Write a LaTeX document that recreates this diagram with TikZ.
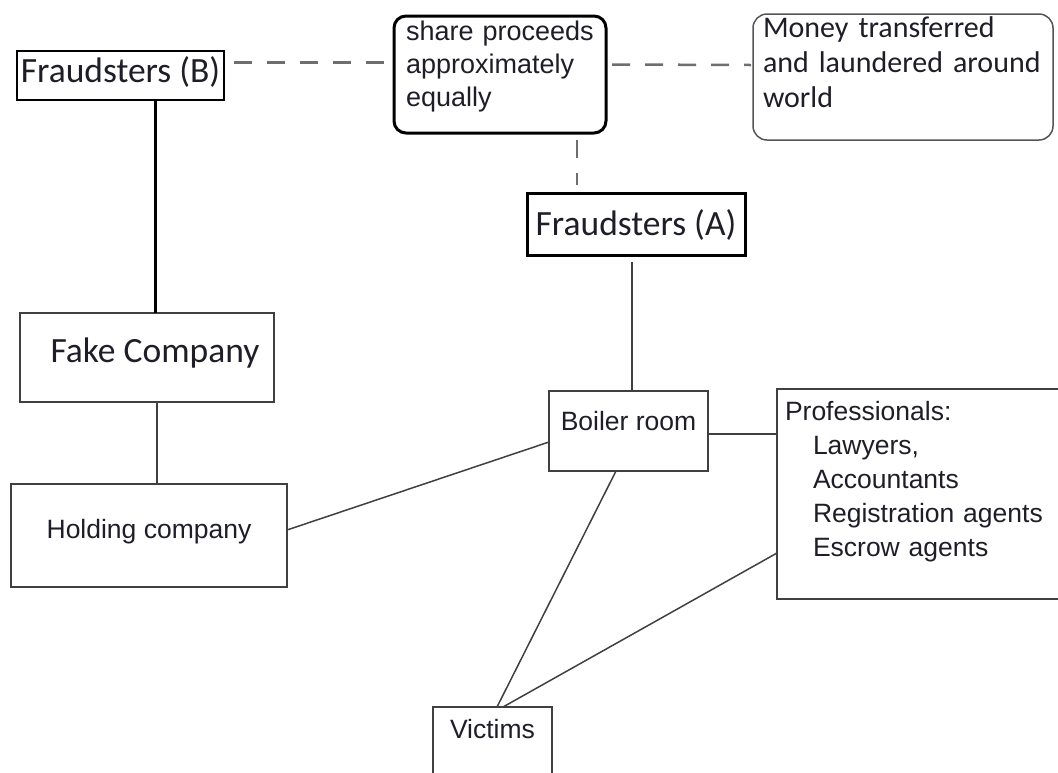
\documentclass[tikz,border=0pt]{standalone}
\usepackage{fontspec}
\setmainfont{Liberation Sans}
\newfontfamily\calfont{Carlito}
\usetikzlibrary{calc}
\definecolor{boxgray}{HTML}{404040}
\definecolor{dashgray}{HTML}{6E6E6E}
\definecolor{roundgray}{HTML}{555555}
\definecolor{inkdark}{HTML}{1E1E28}
\begin{document}
\begin{tikzpicture}[x=1pt, y=-1pt]
    \tikzset{
      box/.style={rectangle, draw=boxgray, line width=1.5pt, inner sep=0pt,
                  outer sep=0pt, anchor=north west, text=inkdark,
                  font=\fontsize{26.5}{34}\selectfont},
      heavybox/.style={box, draw=black, line width=3pt},
      calbox/.style={font=\calfont\fontsize{35.5}{38}\selectfont},
      link/.style={draw=boxgray, line width=1.5pt},
      dashlink/.style={draw=dashgray, line width=2.5pt,
                       dash pattern=on 18pt off 15pt}
    }
    \useasboundingbox (0,0) rectangle (1058,772);

    \node[box, draw=black, calbox, minimum width=207pt,
          text height=31pt, text depth=18pt] (fraudB) at (17,51)
      {Fraudsters (B)};
    \node[heavybox, rounded corners=12pt, inner xsep=12pt, text width=188pt,
          align=left, font=\fontsize{27}{33}\selectfont,
          text height=24pt, text depth=93pt] (share) at (394,16)
      {\mbox{share proceeds}\\\mbox{approximately}\\\mbox{equally}};
    \node[box, draw=roundgray, rounded corners=14pt, inner xsep=10pt,
          text width=280pt, align=left, font=\calfont\fontsize{30}{35}\selectfont,
          text height=23pt, text depth=103pt] (money) at (753,14)
      {Money transferred\\and laundered around\\world};
    \node[heavybox, calbox, minimum width=218pt,
          text height=42pt, text depth=20pt] (fraudA) at (527,193)
      {Fraudsters (A)};
    \node[box, calbox, minimum width=254pt,
          text height=49pt, text depth=40pt] (fake) at (20,313)
      {\hspace*{16pt}Fake Company};
    \node[box, minimum width=276pt,
          text height=54pt, text depth=49pt] (holding) at (11,484)
      {Holding company};
    \node[box, minimum width=159pt,
          text height=39pt, text depth=41pt] (boiler) at (549,391)
      {Boiler room};
    \node[box, inner xsep=8pt, text width=282pt, align=left,
          text height=31pt, text depth=179pt] (prof) at (777,389)
      {Professionals:\\\hspace*{28pt}Lawyers,\\\hspace*{28pt}Accountants\\
       \hspace*{28pt}Registration agents\\\hspace*{28pt}Escrow agents};
    \node[box, minimum width=119pt,
          text height=31pt, text depth=52pt] (victims) at (433,707)
      {Victims};

    % dashed links
    \draw[dashlink] ($(fraudB.east)+(10,-13)$) -- ($(share.west)+(-10,-12)$);
    \draw[dashlink] ($(share.east)+(6,-10)$) -- ($(money.west)+(-2,-12)$);
    \draw[dashlink] ($(share.south)+(77,7)$) -- ($(fraudA.north)+(-59,-8)$);

    % solid links
    \draw[link, draw=black, line width=3pt] ($(fraudB.south)+(34.5,0)$)
      -- ($(fraudB.south |- fake.north)+(34.5,0)$);
    \draw[link] ($(fake.south)+(10,0)$) -- ($(fake.south |- holding.north)+(10,0)$);
    \draw[link] ($(boiler.north)+(3.5,0)$) -- ($(boiler.north |- fraudA.south)+(3.5,7)$);
    \draw[link] ($(holding.east)+(0,-5.5)$) -- ($(boiler.west)+(0,11)$);
    \draw[link] ($(boiler.east)+(0,3)$) -- ($(boiler.east -| prof.west)+(0,3)$);
    \draw[link] ($(boiler.south)+(-12.5,0)$) -- ($(victims.north)+(4.5,0)$);
    \draw[link] ($(prof.west)+(0,59)$) -- ($(victims.north)+(10.5,0)$);
  \end{tikzpicture}
\end{document}
